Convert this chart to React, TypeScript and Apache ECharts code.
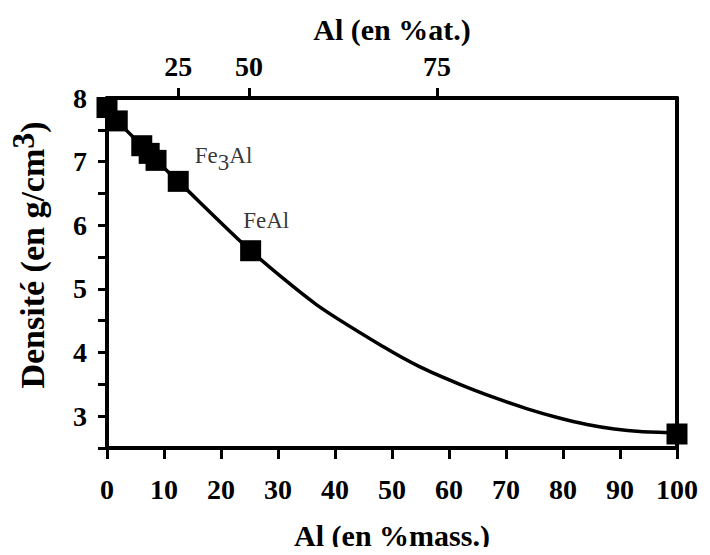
import React, { useEffect, useRef } from "react";
import * as echarts from "echarts";

// Measured points (Al mass %, density g/cm3)
const massPct = [0, 1.8, 6.1, 7.4, 8.6, 12.5, 25.2, 100];
const density = [7.85, 7.64, 7.25, 7.13, 7.02, 6.69, 5.6, 2.72];

// Fitted curve
const curveMass = [0, 1.8, 6.1, 8.6, 12.5, 25.2, 36.8, 48.5, 55, 61.9, 68, 73.6, 79, 84.2, 89, 93.5, 100];
const curveDensity = [7.85, 7.64, 7.25, 7.02, 6.69, 5.6, 4.75, 4.09, 3.77, 3.5, 3.29, 3.12, 2.98, 2.87, 2.8, 2.76, 2.74];

// Top axis (Al at. %) ticks, placed on the mass % scale
const atTickLabels = ["25", "50", "75"];
const atTickMassPos = [12.5, 24.9, 57.9];

// Phase annotations
const annotText = ["Fe3Al", "FeAl"];
const annotX = [15.4, 23.9];
const annotY = [7.1, 6.07];

const FONT = "Liberation Serif";

export default function App() {
  const ref = useRef<HTMLDivElement>(null);
  useEffect(() => {
    if (!ref.current) return;
    const chart = echarts.init(ref.current, null, { renderer: "svg" });
    const axisLabelStyle = {
      color: "#000",
      fontFamily: FONT,
      fontWeight: "bold" as const,
      fontSize: 28,
    };
    const lineBlack = { color: "#000", width: 4 };
    const tickBlack = { color: "#000", width: 3, opacity: 1 };
    chart.setOption({
      animation: false,
      backgroundColor: "#fff",
      grid: { left: 107, right: 33, top: 98, bottom: 98 },
      xAxis: [
        {
          type: "value",
          position: "bottom",
          min: 0,
          max: 100,
          interval: 10,
          name: "Al (en %mass.)",
          nameLocation: "middle",
          nameGap: 72,
          nameTextStyle: { ...axisLabelStyle, fontSize: 30 },
          axisLine: { show: true, onZero: false, lineStyle: lineBlack },
          axisTick: { show: true, length: 11, lineStyle: tickBlack },
          axisLabel: { ...axisLabelStyle, margin: 27 },
          splitLine: { show: false },
        },
        {
          type: "value",
          position: "top",
          min: 0,
          max: 100,
          name: "Al (en %at.)",
          nameLocation: "middle",
          nameGap: 54,
          nameTextStyle: { ...axisLabelStyle, fontSize: 30 },
          axisLine: { show: true, onZero: false, lineStyle: lineBlack },
          axisTick: {
            show: true,
            customValues: atTickMassPos,
            length: 10,
            lineStyle: tickBlack,
          },
          axisLabel: {
            ...axisLabelStyle,
            margin: 18,
            customValues: atTickMassPos,
            formatter: (v: number) => {
              const i = atTickMassPos.findIndex((p) => Math.abs(p - v) < 1e-6);
              return i >= 0 ? atTickLabels[i] : "";
            },
          },
          splitLine: { show: false },
        },
      ],
      yAxis: [
        {
          type: "value",
          position: "left",
          min: 2.5,
          max: 8,
          interval: 0.5,
          axisLine: { show: true, onZero: false, lineStyle: lineBlack },
          axisTick: { show: true, length: 9, lineStyle: tickBlack },
          axisLabel: {
            ...axisLabelStyle,
            margin: 20,
            formatter: (v: number) => (Math.abs(v - Math.round(v)) < 1e-6 ? String(Math.round(v)) : ""),
          },
          splitLine: { show: false },
        },
        {
          type: "value",
          position: "right",
          min: 2.5,
          max: 8,
          axisLine: { show: true, onZero: false, lineStyle: lineBlack },
          axisTick: { show: false },
          axisLabel: { show: false },
          splitLine: { show: false },
        },
      ],
      graphic: [
        {
          type: "text",
          x: 32,
          y: 255,
          rotation: Math.PI / 2,
          style: {
            text: "{a|Densité (en g/cm}{s|3}{a|)}",
            align: "center",
            verticalAlign: "middle",
            rich: {
              a: { fontFamily: FONT, fontWeight: "bold", fontSize: 34, color: "#000" },
              s: {
                fontFamily: FONT,
                fontWeight: "bold",
                fontSize: 32,
                color: "#000",
                padding: [0, 0, 18, 0],
              },
            },
          },
        },
      ],
      series: [
        {
          type: "line",
          data: curveMass.map((x, i) => [x, curveDensity[i]]),
          smooth: 0.25,
          showSymbol: false,
          symbol: "none",
          lineStyle: { color: "#000", width: 3.5 },
          z: 2,
        },
        {
          type: "scatter",
          data: massPct.map((x, i) => [x, density[i]]),
          symbol: "rect",
          symbolSize: 21,
          itemStyle: { color: "#000", opacity: 1 },
          z: 3,
        },
        {
          type: "scatter",
          data: annotX.map((x, i) => [x, annotY[i], annotText[i]]),
          symbolSize: 0,
          itemStyle: { color: "transparent" },
          label: {
            show: true,
            position: "right",
            distance: 0,
            formatter: (p: any) =>
              p.value[2] === "Fe3Al" ? "{a|Fe}{s|3}{a|Al}" : "{a|" + p.value[2] + "}",
            rich: {
              a: { fontFamily: FONT, fontSize: 23, color: "#000" },
              s: { fontFamily: FONT, fontSize: 23, color: "#000", padding: [14, 0, 0, 0] },
            },
          },
          z: 4,
        },
      ],
    });
    return () => chart.dispose();
  }, []);
  return <div ref={ref} style={{ width: 710, height: 555, margin: -8 }} />;
}
